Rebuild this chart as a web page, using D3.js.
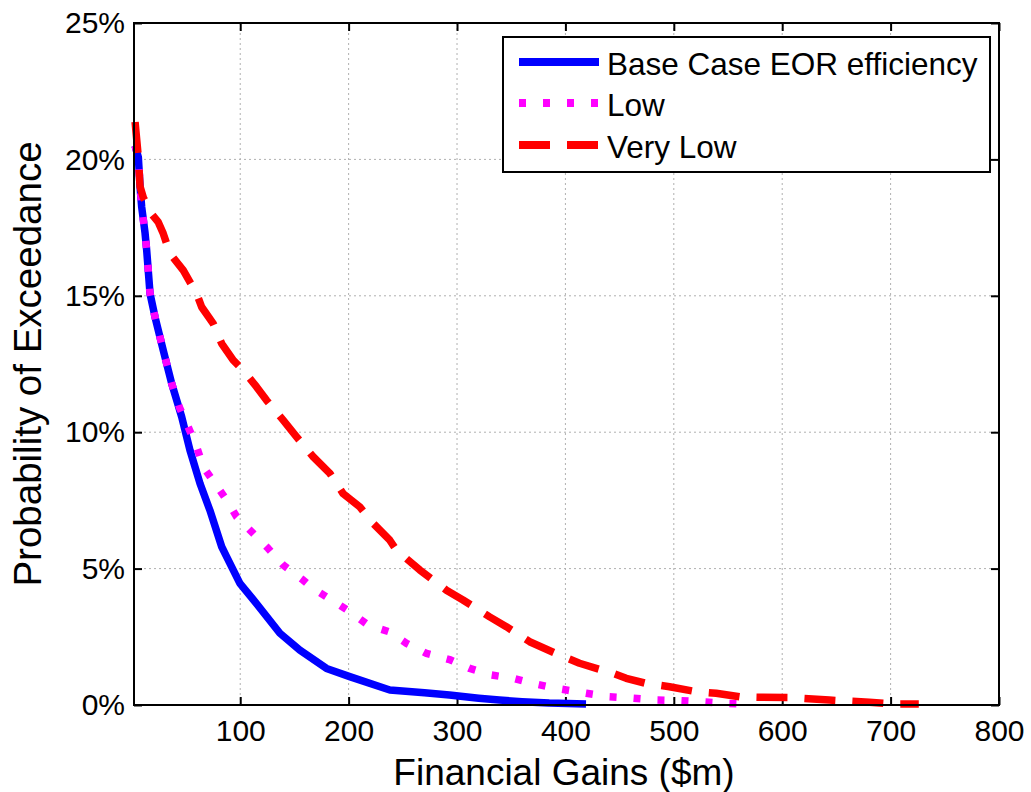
<!DOCTYPE html>
<html>
<head>
<meta charset="utf-8">
<script src="https://cdn.jsdelivr.net/npm/d3@7"></script>
<style>
  html, body { margin: 0; padding: 0; background: #fff; }
  svg { display: block; font-family: "Liberation Sans", Arial, Helvetica, sans-serif; }
</style>
</head>
<body>
<svg id="chart" width="1031" height="792"></svg>
<script>
// ---- Data ----
const seriesNames = ["Base Case EOR efficiency", "Low", "Very Low"];

const baseGain = [3, 6, 7.6, 9.1, 12.2, 13.7, 16.8, 21.4, 29, 36.8, 46, 53.6, 62.9, 72, 82.9, 87.5, 99.7, 115, 136.6, 155, 179.6, 201, 238, 270, 293, 320, 339, 360, 385, 419];
const baseProb = [20.5, 20.08, 19.0, 18.25, 17.3, 16.67, 15.08, 14.22, 13.0, 11.78, 10.56, 9.34, 8.12, 7.14, 5.8, 5.43, 4.46, 3.72, 2.63, 2.01, 1.34, 1.04, 0.55, 0.45, 0.37, 0.25, 0.18, 0.12, 0.07, 0.04];

const lowGain = [3, 6, 7.6, 9.1, 12.2, 13.7, 16.8, 21.4, 29, 36.8, 44, 50.6, 59.8, 65.9, 76.7, 87.5, 96.7, 112, 125.8, 139.6, 158, 167.3, 184.2, 201.1, 218, 237.8, 253.4, 271.8, 294, 311.7, 331.7, 351.6, 370, 391.6, 419.3, 440.7, 462.2, 483.8, 505.3, 526.7, 548.3, 570];
const lowProb = [20.5, 20.08, 19.0, 18.25, 17.3, 16.67, 15.08, 14.22, 13.0, 11.78, 10.9, 10.32, 9.46, 8.73, 8.12, 7.51, 6.9, 6.29, 5.74, 5.13, 4.58, 4.27, 3.85, 3.42, 2.93, 2.68, 2.26, 1.89, 1.65, 1.34, 1.1, 0.98, 0.79, 0.61, 0.43, 0.30, 0.25, 0.18, 0.16, 0.12, 0.06, 0.03];

const veryLowGain = [3, 6, 7.6, 10.6, 18.3, 24.4, 29, 35.2, 47.5, 59.8, 64.4, 75.1, 82.9, 93.5, 102.8, 115.1, 124.3, 139.6, 152, 167.3, 182.7, 194.9, 210.3, 222.6, 238, 244.1, 265.6, 290.2, 305.5, 330.1, 345.5, 367, 394.6, 413, 443.8, 456.1, 474.6, 496.1, 520.7, 539.1, 560.6, 582, 606.6, 643.5, 680.4, 701.6, 726];
const veryLowProb = [21.37, 20.08, 19.0, 18.6, 18.0, 17.7, 17.28, 16.55, 15.93, 15.08, 14.59, 13.98, 13.25, 12.64, 12.27, 11.66, 11.17, 10.44, 9.83, 9.1, 8.49, 7.75, 7.26, 6.66, 6.04, 5.68, 4.95, 4.21, 3.85, 3.23, 2.87, 2.32, 1.83, 1.53, 1.16, 0.98, 0.79, 0.67, 0.49, 0.43, 0.30, 0.28, 0.27, 0.18, 0.1, 0.04, 0.04];

const xTicks = [100, 200, 300, 400, 500, 600, 700, 800];
const yTicks = [0, 5, 10, 15, 20, 25];
const yTickLabels = ["0%", "5%", "10%", "15%", "20%", "25%"];
const xTitle = "Financial Gains ($m)";
const yTitle = "Probability of Exceedance";

// ---- Layout ----
const L = 134, R = 999, T = 23, B = 705;
const svg = d3.select("#chart");

const x = d3.scaleLinear().domain([2, 800]).range([L, R]);
const y = d3.scaleLinear().domain([0, 25]).range([B, T]);

// grid
const grid = svg.append("g");
grid.selectAll("line.gx").data(xTicks.filter(v => v < 800)).join("line")
  .attr("x1", d => x(d)).attr("x2", d => x(d)).attr("y1", T).attr("y2", B)
  .attr("stroke", "#b0b0b0").attr("stroke-width", 1).attr("stroke-dasharray", "2,3");
grid.selectAll("line.gy").data(yTicks.filter(v => v > 0 && v < 25)).join("line")
  .attr("x1", L).attr("x2", R).attr("y1", d => y(d)).attr("y2", d => y(d))
  .attr("stroke", "#b0b0b0").attr("stroke-width", 1).attr("stroke-dasharray", "2,3");

// axes
const tickFont = 30;
const xAxisB = svg.append("g").attr("transform", `translate(0,${B})`)
  .call(d3.axisBottom(x).tickValues(xTicks).tickSizeInner(-8).tickSizeOuter(0).tickPadding(15).tickFormat(d3.format("d")));
const xAxisT = svg.append("g").attr("transform", `translate(0,${T})`)
  .call(d3.axisTop(x).tickValues(xTicks).tickSizeInner(-8).tickSizeOuter(0).tickFormat(""));
const yAxisL = svg.append("g").attr("transform", `translate(${L},0)`)
  .call(d3.axisLeft(y).tickValues(yTicks).tickSizeInner(-8).tickSizeOuter(0).tickPadding(9)
    .tickFormat((d, i) => yTickLabels[i]));
const yAxisR = svg.append("g").attr("transform", `translate(${R},0)`)
  .call(d3.axisRight(y).tickValues(yTicks).tickSizeInner(-8).tickSizeOuter(0).tickFormat(""));

[xAxisB, xAxisT, yAxisL, yAxisR].forEach(g => {
  g.select(".domain").remove();
  g.selectAll(".tick line").attr("stroke", "#000").attr("stroke-width", 2);
  g.selectAll("text").attr("font-size", tickFont).attr("fill", "#000")
    .attr("font-family", "'Liberation Sans', Arial, sans-serif");
});

// series lines
const series = [
  { name: seriesNames[0], gx: baseGain, p: baseProb, color: "#0000ff", dash: null },
  { name: seriesNames[1], gx: lowGain, p: lowProb, color: "#ff00ff", dash: "7,17" },
  { name: seriesNames[2], gx: veryLowGain, p: veryLowProb, color: "#ff0000", dash: "31,17" }
];
const line = d3.line().x(d => x(d[0])).y(d => y(d[1]));
svg.append("g").selectAll("path").data(series).join("path")
  .attr("d", s => line(s.gx.map((v, i) => [v, s.p[i]])))
  .attr("fill", "none").attr("stroke", s => s.color).attr("stroke-width", 7.5)
  .attr("stroke-linejoin", "round")
  .attr("stroke-dasharray", s => s.dash);

// frame
svg.append("rect").attr("x", L).attr("y", T).attr("width", R - L).attr("height", B - T)
  .attr("fill", "none").attr("stroke", "#000").attr("stroke-width", 2);

// legend
const lg = svg.append("g");
lg.append("rect").attr("x", 503).attr("y", 37).attr("width", 487).attr("height", 135)
  .attr("fill", "#fff").attr("stroke", "#000").attr("stroke-width", 2);
const rowY = [62, 103, 145];
series.forEach((s, i) => {
  lg.append("line").attr("x1", 519).attr("x2", 599).attr("y1", rowY[i]).attr("y2", rowY[i])
    .attr("stroke", s.color).attr("stroke-width", 8).attr("stroke-dasharray", s.dash);
  lg.append("text").attr("x", 607).attr("y", rowY[i] + 13).attr("font-size", 31.5)
    .attr("fill", "#000").text(s.name);
});

// titles
svg.append("text").attr("x", 564).attr("y", 785).attr("text-anchor", "middle")
  .attr("font-size", 37).attr("fill", "#000").text(xTitle);
svg.append("text").attr("transform", `translate(41,364) rotate(-90)`)
  .attr("text-anchor", "middle").attr("font-size", 38.5).attr("fill", "#000").text(yTitle);
</script>
</body>
</html>
